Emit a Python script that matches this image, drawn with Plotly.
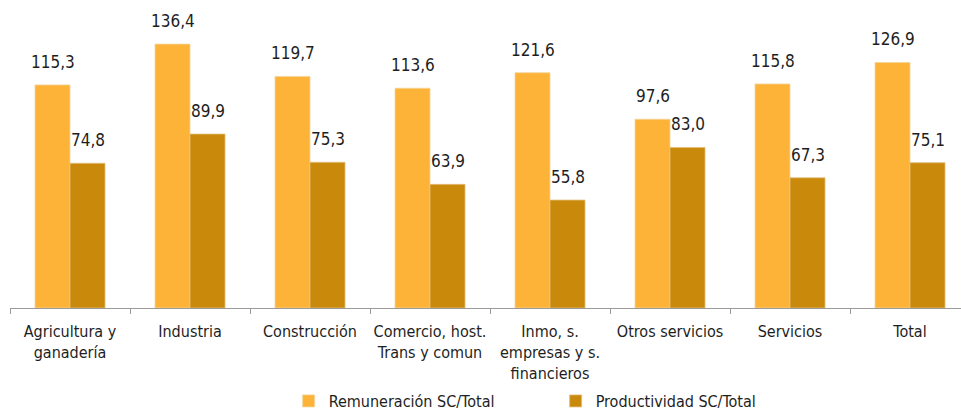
import plotly.graph_objects as go

categorias = [
    "Agricultura y<br>ganadería",
    "Industria",
    "Construcción",
    "Comercio, host.<br>Trans y comun",
    "Inmo, s.<br>empresas y s.<br>financieros",
    "Otros servicios",
    "Servicios",
    "Total",
]
remuneracion = [115.3, 136.4, 119.7, 113.6, 121.6, 97.6, 115.8, 126.9]
productividad = [74.8, 89.9, 75.3, 63.9, 55.8, 83.0, 67.3, 75.1]

COLOR_REM = "#FDB338"
COLOR_PROD = "#C98A0C"
FONT = "Liberation Sans Narrow, DejaVu Sans Condensed, Arial Narrow, sans-serif"
TEXT = "#1e1e1e"


def fmt(v):
    return f"{v:.1f}".replace(".", ",")


fig = go.Figure()
fig.add_trace(go.Bar(
    x=categorias, y=remuneracion, name="Remuneración SC/Total",
    marker=dict(color=COLOR_REM, line=dict(color="#f3d49a", width=0.8)),
))
fig.add_trace(go.Bar(
    x=categorias, y=productividad, name="Productividad SC/Total",
    marker=dict(color=COLOR_PROD, line=dict(color="#e2bd7a", width=0.8)),
))

# value labels above each bar
annotations = []
for serie, shift in ((remuneracion, -17.5), (productividad, 17.5)):
    for cat, v in zip(categorias, serie):
        annotations.append(dict(
            x=cat, y=v, xref="x", yref="y", text=fmt(v), showarrow=False,
            xshift=shift, yshift=11, yanchor="bottom",
            font=dict(family=FONT, size=17, color=TEXT),
        ))

fig.update_layout(
    width=961, height=418,
    margin=dict(l=10, r=0, t=0, b=110),
    paper_bgcolor="white", plot_bgcolor="white",
    barmode="group", bargap=0.4167, bargroupgap=0,
    font=dict(family=FONT, size=16, color=TEXT),
    showlegend=True,
    legend=dict(
        orientation="h", x=0.293, xanchor="left",
        yref="container", y=0.0, yanchor="bottom",
        font=dict(family=FONT, size=16, color=TEXT),
        entrywidth=222, itemwidth=30,
    ),
    annotations=annotations,
)
fig.update_xaxes(
    range=[-0.5, 7.425], showline=True, linecolor="#9a9a9a", linewidth=1,
    ticks="outside", tickson="boundaries", ticklen=5, tickcolor="#9a9a9a",
    ticklabelstandoff=9, tickangle=0, automargin=False,
    showgrid=False, tickfont=dict(family=FONT, size=16, color=TEXT),
)
fig.update_yaxes(range=[0, 159.2], visible=False, showgrid=False)

fig.write_html("out.html")
